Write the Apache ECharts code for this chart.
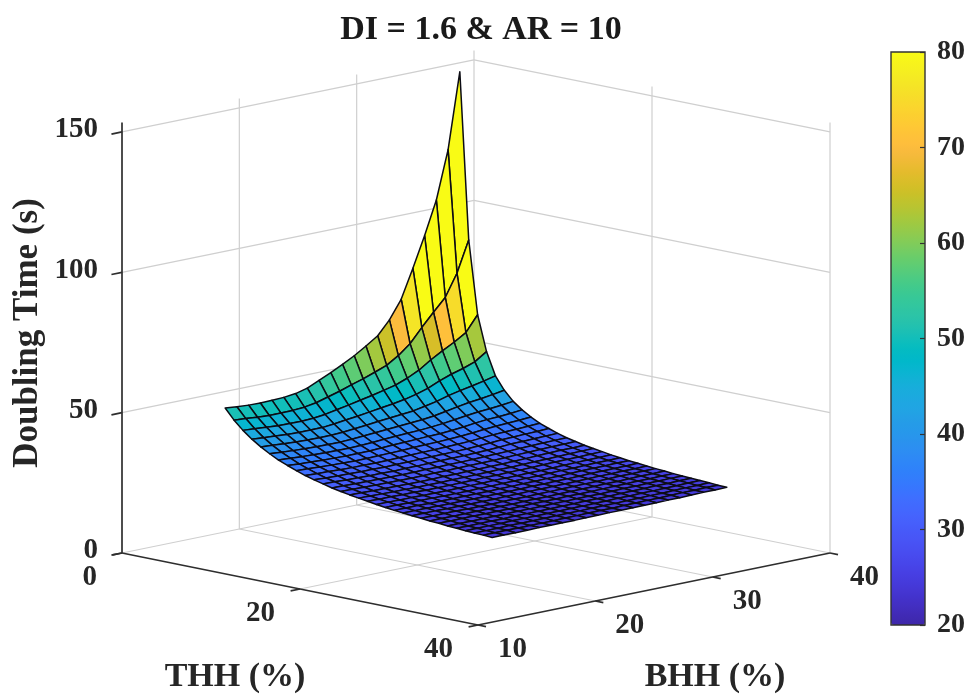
<!DOCTYPE html>
<html><head><meta charset="utf-8">
<style>html,body{margin:0;padding:0;background:#fff}#c{width:978px;height:697px;filter:blur(0.55px)}</style>
<script src="https://cdn.jsdelivr.net/npm/echarts@6/dist/echarts.min.js"></script>
</head><body><div id="c"></div>
<script>
const thhValues=[5,6,7,8,9,10,11,12,13,14,15,16,17,18,19,20,21,22,23,24,25,26,27,28,29,30,31,32,33,34,35];
const bhhValues=[15,16,17,18,19,20,21,22,23,24,25,26,27,28,29,30,31,32,33,34,35];
const doublingTime=[
[50.6,50.2,49.9,49.8,49.9,50.1,50.6,51.7,53.6,55.5,57.6,59.8,62.4,65.2,70.0,76.5,86.7,97.5,109.3,126.4,153.3],
[46.9,46.6,46.2,46.0,46.0,46.1,46.4,47.1,48.3,49.5,50.9,52.2,53.7,55.3,57.9,61.3,66.2,70.8,75.2,83.0,94.0],
[43.9,43.6,43.3,43.0,42.9,42.9,43.1,43.6,44.4,45.2,46.1,46.9,47.9,48.9,50.5,52.5,55.3,57.7,59.9,62.5,68.0],
[41.4,41.1,40.8,40.5,40.4,40.4,40.4,40.8,41.4,41.9,42.5,43.1,43.7,44.4,45.4,46.7,48.5,50.0,51.2,52.7,55.5],
[39.3,39.0,38.7,38.5,38.3,38.3,38.3,38.5,38.9,39.3,39.8,40.2,40.6,41.0,41.8,42.7,43.9,44.8,45.6,46.5,47.5],
[37.5,37.2,36.9,36.7,36.6,36.5,36.5,36.7,37.0,37.3,37.6,37.9,38.2,38.5,39.0,39.7,40.5,41.2,41.7,42.3,43.0],
[35.9,35.7,35.4,35.2,35.1,35.0,35.0,35.1,35.3,35.6,35.8,36.0,36.2,36.5,36.9,37.4,38.0,38.5,38.8,39.2,39.7],
[34.6,34.3,34.1,33.9,33.8,33.7,33.7,33.8,34.0,34.2,34.3,34.5,34.7,34.8,35.1,35.5,36.0,36.4,36.6,36.9,37.3],
[33.4,33.2,33.0,32.8,32.7,32.6,32.6,32.7,32.8,32.9,33.1,33.2,33.3,33.5,33.7,34.0,34.4,34.7,34.9,35.1,35.4],
[32.3,32.1,32.0,31.8,31.7,31.7,31.6,31.7,31.8,31.9,32.0,32.1,32.2,32.3,32.5,32.8,33.1,33.3,33.4,33.6,33.8],
[31.4,31.2,31.1,31.0,30.9,30.9,30.8,30.9,30.9,31.0,31.1,31.1,31.2,31.3,31.5,31.7,32.0,32.1,32.3,32.4,32.6],
[30.6,30.5,30.3,30.2,30.1,30.1,30.0,30.1,30.1,30.2,30.3,30.3,30.4,30.5,30.6,30.8,31.1,31.2,31.3,31.4,31.5],
[29.8,29.7,29.6,29.5,29.5,29.4,29.4,29.4,29.5,29.5,29.6,29.6,29.7,29.8,29.9,30.0,30.2,30.3,30.4,30.5,30.6],
[29.2,29.1,29.0,28.9,28.9,28.8,28.8,28.8,28.9,28.9,29.0,29.0,29.1,29.1,29.2,29.4,29.5,29.6,29.7,29.8,29.9],
[28.6,28.5,28.4,28.3,28.3,28.2,28.2,28.2,28.3,28.3,28.4,28.4,28.5,28.5,28.6,28.7,28.9,29.0,29.1,29.1,29.2],
[28.1,28.0,27.9,27.8,27.8,27.7,27.7,27.7,27.8,27.8,27.9,27.9,28.0,28.0,28.1,28.2,28.3,28.4,28.5,28.6,28.7],
[27.6,27.5,27.5,27.4,27.4,27.3,27.3,27.3,27.4,27.4,27.5,27.5,27.6,27.6,27.7,27.8,27.9,28.0,28.0,28.1,28.2],
[27.1,27.1,27.0,27.0,26.9,26.9,26.9,26.9,27.0,27.0,27.1,27.1,27.1,27.2,27.2,27.3,27.4,27.5,27.6,27.6,27.7],
[26.7,26.7,26.6,26.6,26.6,26.5,26.5,26.5,26.6,26.6,26.7,26.7,26.8,26.8,26.9,27.0,27.0,27.1,27.2,27.2,27.3],
[26.3,26.3,26.3,26.2,26.2,26.2,26.2,26.2,26.2,26.3,26.3,26.4,26.4,26.5,26.5,26.6,26.7,26.8,26.8,26.9,26.9],
[26.0,26.0,26.0,25.9,25.9,25.9,25.9,25.9,25.9,26.0,26.0,26.1,26.1,26.2,26.2,26.3,26.4,26.4,26.5,26.5,26.6],
[25.7,25.7,25.7,25.6,25.6,25.6,25.6,25.6,25.7,25.7,25.8,25.8,25.8,25.9,25.9,26.0,26.1,26.1,26.2,26.2,26.3],
[25.4,25.4,25.4,25.4,25.3,25.3,25.3,25.4,25.4,25.4,25.5,25.5,25.6,25.6,25.7,25.7,25.8,25.9,25.9,26.0,26.0],
[25.1,25.1,25.1,25.1,25.1,25.1,25.1,25.1,25.2,25.2,25.2,25.3,25.3,25.4,25.4,25.5,25.5,25.6,25.7,25.7,25.8],
[24.9,24.9,24.9,24.9,24.9,24.9,24.9,24.9,25.0,25.0,25.0,25.1,25.1,25.1,25.2,25.3,25.3,25.4,25.4,25.5,25.5],
[24.6,24.6,24.6,24.6,24.6,24.7,24.7,24.7,24.7,24.8,24.8,24.9,24.9,24.9,25.0,25.1,25.1,25.2,25.2,25.3,25.3],
[24.4,24.4,24.4,24.4,24.4,24.5,24.5,24.5,24.5,24.6,24.6,24.7,24.7,24.7,24.8,24.9,24.9,25.0,25.0,25.1,25.1],
[24.2,24.2,24.2,24.2,24.3,24.3,24.3,24.3,24.4,24.4,24.4,24.5,24.5,24.6,24.6,24.7,24.7,24.8,24.8,24.9,25.0],
[24.0,24.0,24.0,24.1,24.1,24.1,24.1,24.2,24.2,24.2,24.3,24.3,24.3,24.4,24.4,24.5,24.5,24.6,24.7,24.7,24.8],
[23.9,23.9,23.9,23.9,23.9,23.9,23.9,24.0,24.0,24.1,24.1,24.1,24.2,24.2,24.3,24.3,24.4,24.5,24.5,24.6,24.6],
[23.7,23.7,23.7,23.7,23.8,23.8,23.8,23.8,23.9,23.9,24.0,24.0,24.0,24.1,24.1,24.2,24.2,24.3,24.4,24.4,24.5]
];
const thhTicks=[0,20,40];
const bhhTicks=[10,20,30,40];
const zTicks=[0,50,100,150];
const zTop=153.4;
const parula=[[.2422,.1504,.6603],[.2504,.165,.7076],[.2578,.1818,.7511],[.2647,.1978,.7952],[.2706,.2147,.8364],[.2751,.2342,.871],[.2783,.2559,.8991],[.2803,.2782,.9221],[.2813,.3006,.9414],[.281,.3228,.9579],[.2795,.3447,.9717],[.276,.3667,.9829],[.2699,.3892,.9906],[.2602,.4123,.9952],[.244,.4358,.9988],[.2206,.4603,.9973],[.1963,.4847,.9892],[.1834,.5074,.9798],[.1786,.5289,.9682],[.1764,.5499,.952],[.1687,.5703,.9359],[.154,.5902,.9218],[.146,.6091,.9079],[.138,.6276,.8973],[.1248,.6459,.8883],[.1113,.6635,.8763],[.0952,.6798,.8598],[.0689,.6948,.8394],[.0297,.7082,.8163],[.0036,.7203,.7917],[.0067,.7312,.766],[.0433,.7411,.7394],[.0964,.75,.712],[.1408,.7584,.6842],[.1717,.767,.6554],[.1938,.7758,.6251],[.2161,.7843,.5923],[.247,.7918,.5567],[.2906,.7973,.5188],[.3406,.8008,.4789],[.3909,.8029,.4354],[.4456,.8024,.3909],[.5044,.7993,.348],[.5616,.7942,.3045],[.6174,.7876,.2612],[.672,.7793,.2227],[.7242,.7698,.191],[.7738,.7598,.1646],[.8203,.7498,.1535],[.8634,.7406,.1596],[.9035,.733,.1774],[.9393,.7288,.21],[.9728,.7298,.2394],[.9956,.7434,.2371],[.997,.7659,.2199],[.9952,.7893,.2028],[.9892,.8136,.1885],[.9786,.8386,.1766],[.9676,.8639,.1643],[.961,.889,.1537],[.9597,.9135,.1423],[.9628,.9373,.1265],[.9691,.9606,.1064],[.9769,.9839,.0805]];
const parulaColors=parula.map(c=>`rgb(${c.map(v=>Math.round(v*255)).join(',')})`);

const FONT='"Liberation Serif","Times New Roman",serif';
// oblique view: THH, BHH and height onto the hidden plane axes
function project(t,b,z){
  return [t/40*356+(b-10)/30*352, z*2.807+(b-10)/30*72-t/40*72];
}
// surface facets, far to near
const facets=[];
for(let i=0;i<thhValues.length-1;i++){
  for(let j=bhhValues.length-2;j>=0;j--){
    facets.push([i,j,Math.min(80,doublingTime[i][j])]);
  }
}
// grey grid segments [t1,b1,z1,t2,b2,z2]
const gridSegs=[];
zTicks.forEach(z=>{gridSegs.push([0,10,z,0,40,z],[0,40,z,40,40,z]);});
bhhTicks.slice(1).forEach(b=>gridSegs.push([0,b,0,0,b,zTop]));
thhTicks.slice(1).forEach(t=>gridSegs.push([t,40,0,t,40,zTop]));
bhhTicks.slice(1,3).forEach(b=>gridSegs.push([0,b,0,40,b,0]));
gridSegs.push([20,10,0,20,40,0]);
// dark axis segments
const axisSegs=[[0,10,0,40,10,0],[40,10,0,40,40,0],[0,10,0,0,10,zTop]];
thhTicks.forEach(t=>axisSegs.push([t,10,0,t,9.2,0]));
bhhTicks.forEach(b=>axisSegs.push([40,b,0,40.9,b,0]));
zTicks.forEach(z=>axisSegs.push([0,10,z,0,9.1,z]));
// tick labels [text,t,b,z,dx,dy,align]
const tickLabels=[];
thhTicks.forEach(t=>tickLabels.push([String(t),t,10,0,-25,25,'right']));
bhhTicks.forEach(b=>tickLabels.push([String(b),40,b,0,20,25,'left']));
zTicks.forEach(z=>tickLabels.push([String(z),0,10,z,-24,-2,'right']));

function segRender(color,width){
  return function(params,api){
    const p=project(api.value(0),api.value(1),api.value(2));
    const q=project(api.value(3),api.value(4),api.value(5));
    const a=api.coord(p),b=api.coord(q);
    return {type:'line',shape:{x1:a[0],y1:a[1],x2:b[0],y2:b[1]},style:{stroke:color,lineWidth:width},silent:true};
  };
}
const chart=echarts.init(document.getElementById('c'),null,{renderer:'canvas'});
chart.setOption({
  animation:false,
  backgroundColor:'#fff',
  title:{text:'DI = 1.6 & AR = 10',left:476,top:8,textAlign:'center',
    textStyle:{fontFamily:FONT,fontWeight:'bold',fontSize:34,color:'#1a1a1a'}},
  tooltip:{show:false},
  grid:[
    {left:122,top:40,width:708,height:585,show:false},
    {left:891,top:52,width:34,height:573,show:true,borderColor:'#333',borderWidth:1.4,backgroundColor:'transparent',z:10}
  ],
  xAxis:[
    {type:'value',gridIndex:0,min:0,max:708,show:false},
    {type:'value',gridIndex:1,min:0,max:1,show:false}
  ],
  yAxis:[
    {type:'value',gridIndex:0,min:-72,max:513,show:false},
    {type:'value',gridIndex:1,min:20,max:80,interval:10,position:'right',z:10,
     axisLine:{show:false,onZero:false},splitLine:{show:false},
     axisTick:{show:true,inside:true,length:5,lineStyle:{color:'#333',width:1.2}},
     axisLabel:{margin:12,fontFamily:FONT,fontWeight:'bold',fontSize:28,color:'#262626'}}
  ],
  visualMap:{type:'continuous',min:20,max:80,seriesIndex:2,dimension:2,
    left:891,top:52,itemWidth:34,itemHeight:573,padding:0,calculable:false,hoverLink:false,
    inRange:{color:parulaColors}},
  series:[
    {type:'custom',name:'grid',coordinateSystem:'cartesian2d',xAxisIndex:0,yAxisIndex:0,silent:true,
     clip:false,data:gridSegs,renderItem:segRender('#cfcfcf',1.2),encode:{x:0,y:1}},
    {type:'custom',name:'axes',coordinateSystem:'cartesian2d',xAxisIndex:0,yAxisIndex:0,silent:true,
     clip:false,data:axisSegs,renderItem:segRender('#2e2e2e',1.7),encode:{x:0,y:1}},
    {type:'custom',name:'surface',coordinateSystem:'cartesian2d',xAxisIndex:0,yAxisIndex:0,silent:true,
     clip:false,data:facets,encode:{x:0,y:1},
     renderItem:function(params,api){
       const i=api.value(0),j=api.value(1);
       const corner=(a,c)=>api.coord(project(thhValues[a],bhhValues[c],doublingTime[a][c]));
       return {type:'polygon',shape:{points:[corner(i,j),corner(i+1,j),corner(i+1,j+1),corner(i,j+1)]},
         style:{fill:api.visual('color'),stroke:'#0c0c14',lineWidth:1.5,lineJoin:'round'},silent:true};
     }},
    {type:'custom',name:'tickLabels',coordinateSystem:'cartesian2d',xAxisIndex:0,yAxisIndex:0,silent:true,
     clip:false,data:tickLabels.map((r,k)=>[k,r[1],r[2],r[3]]),encode:{x:1,y:2},
     renderItem:function(params,api){
       const r=tickLabels[api.value(0)];
       const p=api.coord(project(r[1],r[2],r[3]));
       return {type:'text',x:p[0]+r[4],y:p[1]+r[5],silent:true,
         style:{text:r[0],align:r[6],verticalAlign:'middle',font:'bold 29px '+FONT,fill:'#262626'}};
     }}
  ],
  graphic:[
    {type:'text',x:235,y:677,silent:true,style:{text:'THH (%)',align:'center',verticalAlign:'middle',font:'bold 34px '+FONT,fill:'#262626'}},
    {type:'text',x:715,y:677,silent:true,style:{text:'BHH (%)',align:'center',verticalAlign:'middle',font:'bold 34px '+FONT,fill:'#262626'}},
    {type:'text',x:28,y:333,rotation:Math.PI/2,silent:true,style:{text:'Doubling Time (s)',align:'center',verticalAlign:'middle',font:'bold 35px '+FONT,fill:'#262626'}}
  ]
});
</script></body></html>
